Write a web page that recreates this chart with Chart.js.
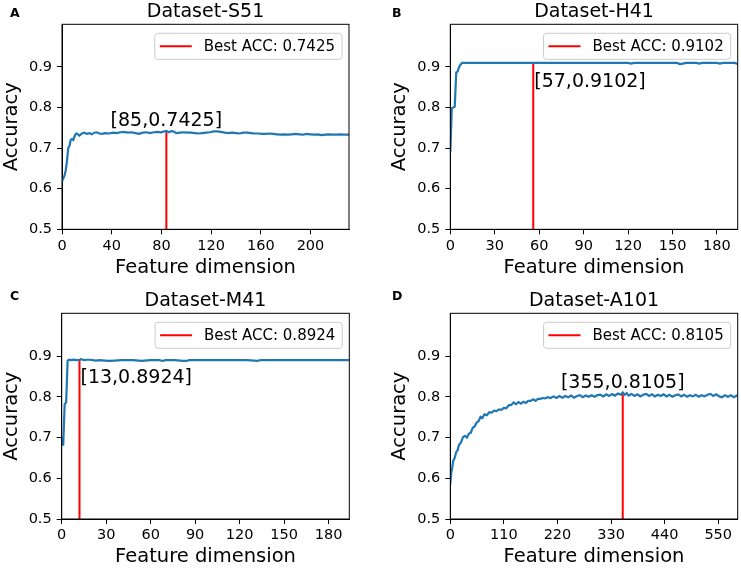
<!DOCTYPE html>
<html>
<head>
<meta charset="utf-8">
<script src="https://cdn.jsdelivr.net/npm/chart.js@4"></script>
<style>
  body { margin: 0; background: #fff; width: 741px; height: 569px; position: relative; overflow: hidden; }
  canvas { position: absolute; }
</style>
</head>
<body>
<canvas id="chart-a"></canvas>
<canvas id="chart-b"></canvas>
<canvas id="chart-c"></canvas>
<canvas id="chart-d"></canvas>
<script>
const titles = ["Dataset-S51", "Dataset-H41", "Dataset-M41", "Dataset-A101"];
const letters = ["A", "B", "C", "D"];
const xMax = [231, 194, 194, 590];
const xTicks = [
  [0, 40, 80, 120, 160, 200],
  [0, 30, 60, 90, 120, 150, 180],
  [0, 30, 60, 90, 120, 150, 180],
  [0, 110, 220, 330, 440, 550]
];
const yTicks = [0.5, 0.6, 0.7, 0.8, 0.9];
const bestDim = [85, 57, 13, 355];
const bestAcc = [0.7425, 0.9102, 0.8924, 0.8105];
const bestLineX = [84, 56, 12, 354];

const dimA = [0, 1, 2, 3, 4, 5, 6, 7, 8, 9, 10, 11, 12, 13, 14, 16, 18, 20, 22, 24, 26, 28, 30, 32, 35, 38, 41, 44, 47, 50,
  53, 56, 59, 62, 65, 68, 71, 74, 77, 80, 82, 84, 86, 88, 90, 92, 95, 98, 101, 104, 107, 110, 113, 116, 119, 122, 125, 128,
  131, 134, 137, 140, 143, 146, 149, 152, 155, 158, 161, 164, 167, 170, 173, 176, 179, 182, 185, 188, 191, 194, 197, 200,
  203, 206, 209, 212, 215, 218, 221, 224, 227, 231];
const accA = [0.618, 0.625, 0.632, 0.645, 0.668, 0.700, 0.705, 0.720, 0.722, 0.720, 0.728, 0.735, 0.736, 0.733, 0.731, 0.736,
  0.738, 0.735, 0.737, 0.734, 0.738, 0.739, 0.736, 0.735, 0.737, 0.736, 0.738, 0.737, 0.739, 0.740,
  0.738, 0.739, 0.737, 0.735, 0.738, 0.739, 0.737, 0.739, 0.740, 0.739, 0.741, 0.7425, 0.739, 0.742, 0.741, 0.737, 0.738,
  0.739, 0.738, 0.738, 0.737, 0.736, 0.737, 0.738, 0.739, 0.741, 0.741, 0.740, 0.738, 0.737, 0.738, 0.737, 0.736, 0.738,
  0.738, 0.737, 0.736, 0.736, 0.735, 0.735, 0.736, 0.735, 0.734, 0.733, 0.734, 0.733, 0.734, 0.735, 0.734, 0.733, 0.735,
  0.734, 0.733, 0.734, 0.732, 0.733, 0.734, 0.733, 0.733, 0.734, 0.733, 0.733];

const dimB = [0, 1, 2, 3, 4, 5, 6, 7, 8, 10, 20, 30, 40, 50, 57, 65, 80, 95, 110, 120, 122, 124, 140, 153, 155, 157, 159,
  166, 168, 170, 180, 182, 184, 192, 194];
const accB = [0.690, 0.798, 0.800, 0.802, 0.886, 0.889, 0.900, 0.906, 0.910, 0.910, 0.910, 0.910, 0.910, 0.910, 0.9102,
  0.910, 0.910, 0.910, 0.910, 0.910, 0.908, 0.910, 0.910, 0.910, 0.907, 0.908, 0.910,
  0.910, 0.908, 0.910, 0.910, 0.908, 0.910, 0.910, 0.907];

const dimC = [0, 1, 2, 3, 4, 5, 6, 8, 10, 12, 13, 15, 17, 19, 21, 23, 26, 29, 32, 36, 40, 44, 48, 52, 54, 56, 60, 66, 68,
  70, 76, 82, 84, 86, 95, 105, 115, 125, 132, 134, 145, 160, 175, 194];
const accC = [0.702, 0.680, 0.782, 0.786, 0.889, 0.891, 0.890, 0.891, 0.890, 0.891, 0.8924, 0.890, 0.891, 0.891, 0.890,
  0.889, 0.890, 0.889, 0.888, 0.889, 0.890, 0.890, 0.890, 0.889, 0.888, 0.889, 0.890, 0.890, 0.888,
  0.890, 0.890, 0.888, 0.888, 0.890, 0.890, 0.890, 0.890, 0.890, 0.888, 0.890, 0.890, 0.890, 0.890, 0.890];

const dimD = [0, 2, 4, 6, 9, 12, 15, 18, 22, 26, 30, 34, 38, 42, 46, 50, 54, 58, 62, 66, 70, 75, 80, 85, 90, 95, 100, 105,
  110, 115, 120, 125, 130, 135, 140, 145, 150, 155, 160, 165, 170, 175, 180, 185, 190, 195, 200, 206, 212, 218, 224, 230,
  236, 242, 248, 254, 260, 266, 272, 278, 284, 290, 296, 302, 308, 314, 320, 326, 332, 338, 344, 350, 354, 358, 362, 366,
  372, 378, 384, 390, 396, 402, 408, 414, 420, 426, 432, 438, 444, 450, 456, 462, 468, 474, 480, 486, 492, 498, 504, 510,
  516, 522, 528, 534, 540, 546, 552, 558, 564, 570, 576, 582, 588, 590];
const accD = [0.585, 0.614, 0.626, 0.642, 0.650, 0.664, 0.669, 0.682, 0.688, 0.701, 0.704, 0.700, 0.709, 0.712, 0.724,
  0.727, 0.737, 0.740, 0.751, 0.748, 0.757, 0.755, 0.762, 0.761, 0.766, 0.765, 0.769, 0.768,
  0.773, 0.772, 0.779, 0.780, 0.786, 0.782, 0.787, 0.783, 0.788, 0.785, 0.790, 0.790, 0.794, 0.790, 0.795, 0.795, 0.797,
  0.796, 0.799, 0.797, 0.801, 0.797, 0.802, 0.798,
  0.802, 0.799, 0.803, 0.798, 0.802, 0.804, 0.799, 0.803, 0.800, 0.804, 0.800, 0.804, 0.805, 0.801, 0.806, 0.802, 0.807,
  0.803, 0.808, 0.805, 0.8105, 0.805, 0.809, 0.803,
  0.807, 0.802, 0.806, 0.801, 0.805, 0.807, 0.802, 0.806, 0.801, 0.805, 0.802, 0.806, 0.801, 0.805, 0.800, 0.804, 0.806,
  0.801, 0.805, 0.800, 0.804, 0.801, 0.805, 0.800,
  0.804, 0.801, 0.805, 0.807, 0.802, 0.806, 0.801, 0.799, 0.804, 0.800, 0.804, 0.799, 0.803, 0.801];

const dims = [dimA, dimB, dimC, dimD];
const accs = [accA, accB, accC, accD];

// panel placement: canvas box and wanted plot area [left, top, right, bottom] in canvas pixels
const boxes = [
  { id: "chart-a", left: 0, top: 0, w: 370, h: 280, area: [62, 24.3, 349, 229.3], yPad: 0 },
  { id: "chart-b", left: 370, top: 0, w: 371, h: 280, area: [80.3, 24.3, 367.7, 229.3], yPad: 18 },
  { id: "chart-c", left: 0, top: 280, w: 370, h: 289, area: [61.7, 33.3, 349.3, 239], yPad: 0 },
  { id: "chart-d", left: 370, top: 280, w: 371, h: 289, area: [80.3, 33.3, 367.7, 239], yPad: 18 }
];
const annotBelow = [false, true, true, false];

const FONT = '"DejaVu Sans", sans-serif';
Chart.defaults.font.family = FONT;
Chart.defaults.color = "#000";

const panelDecor = {
  id: "panelDecor",
  afterDatasetsDraw(chart, args, opts) {
    const { ctx, chartArea: a, scales: { x, y } } = chart;
    ctx.save();
    ctx.strokeStyle = "#000";
    ctx.lineWidth = 1;
    ctx.strokeRect(a.left, a.top, a.right - a.left, a.bottom - a.top);

    // title + panel letter
    ctx.fillStyle = "#000";
    ctx.font = "19px " + FONT;
    ctx.textAlign = "center";
    ctx.textBaseline = "alphabetic";
    ctx.fillText(opts.title, (a.left + a.right) / 2, a.top - 7);
    ctx.font = "bold 12.5px " + FONT;
    ctx.textAlign = "left";
    ctx.fillText(opts.letter, opts.letterX, opts.letterY);

    // best point label
    const px = x.getPixelForValue(opts.lineX);
    const py = y.getPixelForValue(opts.acc);
    const label = "[" + opts.dim + "," + opts.acc + "]";
    ctx.font = "19px " + FONT;
    if (opts.below) {
      ctx.textAlign = "left";
      ctx.fillText(label, px + 1, py + 24);
    } else {
      ctx.textAlign = "center";
      ctx.fillText(label, px, py - 5);
    }

    // legend box
    const text = "Best ACC: " + opts.acc;
    ctx.font = "15px " + FONT;
    const tw = ctx.measureText(text).width;
    const bw = 5 + 32 + 12 + tw + 7, bh = 26;
    const bx = a.right - 7 - bw, by = a.top + 9;
    ctx.beginPath();
    ctx.roundRect(bx, by, bw, bh, 3);
    ctx.fillStyle = "rgba(255,255,255,0.8)";
    ctx.fill();
    ctx.strokeStyle = "#cccccc";
    ctx.stroke();
    ctx.strokeStyle = "red";
    ctx.lineWidth = 2;
    ctx.beginPath();
    ctx.moveTo(bx + 5, by + bh / 2);
    ctx.lineTo(bx + 37, by + bh / 2);
    ctx.stroke();
    ctx.fillStyle = "#000";
    ctx.textAlign = "left";
    ctx.textBaseline = "middle";
    ctx.fillText(text, bx + 49, by + bh / 2 + 0.5);
    ctx.restore();
  }
};

boxes.forEach((b, i) => {
  const cv = document.getElementById(b.id);
  cv.width = b.w;
  cv.height = b.h;
  cv.style.left = b.left + "px";
  cv.style.top = b.top + "px";
  cv.style.width = b.w + "px";
  cv.style.height = b.h + "px";

  const [aL, aT, aR, aB] = b.area;
  const curve = dims[i].map((d, k) => ({ x: d, y: accs[i][k] }));
  const best = [{ x: bestLineX[i], y: 0.5 }, { x: bestLineX[i], y: bestAcc[i] }];

  new Chart(cv.getContext("2d"), {
    type: "line",
    data: {
      datasets: [
        { data: curve, borderColor: "#1f77b4", borderWidth: 2.2, pointRadius: 0, tension: 0, fill: false },
        { data: best, borderColor: "red", borderWidth: 2, pointRadius: 0, fill: false }
      ]
    },
    options: {
      responsive: false,
      animation: false,
      layout: { padding: { left: b.yPad, top: aT, right: b.w - aR, bottom: 0 } },
      plugins: {
        legend: { display: false },
        tooltip: { enabled: false },
        panelDecor: {
          title: titles[i], letter: letters[i],
          letterX: i % 2 ? 22 : 10, letterY: i < 2 ? 17 : 20,
          dim: bestDim[i], acc: bestAcc[i], lineX: bestLineX[i], below: annotBelow[i]
        }
      },
      scales: {
        x: {
          type: "linear", min: 0, max: xMax[i],
          afterFit: s => { s.height = b.h - aB; },
          afterBuildTicks: s => { s.ticks = xTicks[i].map(v => ({ value: v })); },
          grid: { display: true, drawOnChartArea: false, drawTicks: true, tickLength: 5, color: "#000", tickWidth: 1 },
          border: { display: true, color: "#000", width: 1 },
          ticks: { font: { size: 14.5 }, padding: 3, maxRotation: 0, autoSkip: false, callback: v => String(v) },
          title: { display: true, text: "Feature dimension", font: { size: 19.5 }, padding: { top: 0, bottom: 0 } }
        },
        y: {
          type: "linear", min: 0.5, max: 1.005,
          afterFit: s => { s.width = aL - b.yPad; },
          afterBuildTicks: s => { s.ticks = yTicks.map(v => ({ value: v })); },
          grid: { display: true, drawOnChartArea: false, drawTicks: true, tickLength: 5, color: "#000", tickWidth: 1 },
          border: { display: true, color: "#000", width: 1 },
          ticks: { font: { size: 14.5 }, padding: 5, autoSkip: false, callback: v => v.toFixed(1) },
          title: { display: true, text: "Accuracy", font: { size: 19.5 }, padding: { top: 0, bottom: 0 } }
        }
      }
    },
    plugins: [panelDecor]
  });
});
</script>
</body>
</html>
